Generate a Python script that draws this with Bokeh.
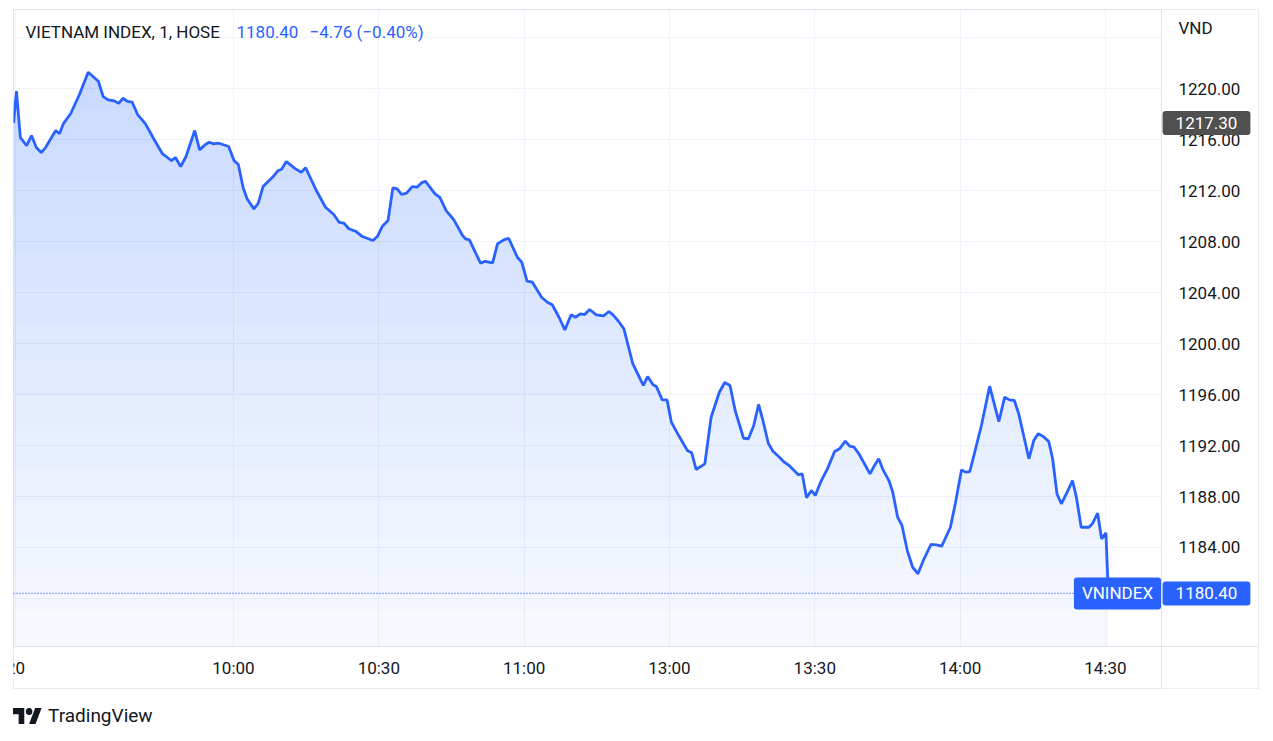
import numpy as np
from bokeh.plotting import figure
from bokeh.models import (FixedTicker, Range1d, Label, Span, BoxAnnotation, Div,
                          NumeralTickFormatter)
from bokeh.layouts import column
from bokeh.embed import file_html
from bokeh.resources import INLINE

# minutes of trading time since 9:15 (lunch break removed: 11:30 -> 13:00)
minutes = (
    [-0.4, 0.2, 1.0, 2.3, 3.3, 4.3, 5.3, 6.2, 8.3, 9.1, 9.9, 11.4, 13.2, 15.0, 17.1, 18.1, 19.1,
     20.2, 21.3, 22.2, 23.1, 24.1, 25.2, 26.8, 28.5, 30.3, 31.3, 32.2, 33.0, 34.1, 35.2, 37.0, 38.0, 39.2]
    + [40.0, 40.9, 42.0, 44.0, 45.1, 46.0, 47.0, 47.8, 49.2, 50.1, 51.1, 52.0, 53.2, 54.2, 54.9, 55.9,
       57.8, 59.0, 59.9, 61.3, 62.1, 64.0, 65.7, 66.8, 67.8, 68.8, 70.2, 71.6, 73.8, 74.7, 75.7, 76.9, 77.9]
    + [78.8, 79.7, 80.7, 81.9, 82.9, 83.8, 84.6, 86.6, 87.6, 88.9, 90.5, 92.2, 92.9, 93.7, 96.0, 96.9,
       98.5, 99.5, 100.8, 101.8, 103.6, 104.5, 105.6, 106.7, 108.6, 109.8, 110.8, 112.2, 113.4, 114.7, 115.6, 116.6]
    + [117.5, 118.5, 119.9, 121.4, 122.5, 123.3, 124.5, 125.6, 127.4, 129.6, 130.5, 131.6, 132.3, 133.5,
       134.5, 135.4, 136.9, 138.7, 139.6, 140.5, 142.3, 143.6, 145.3, 146.4, 147.5, 148.6, 150.3, 151.3,
       152.4, 153.4, 154.3, 155.4]
    + [156.4, 157.5, 158.7, 159.7, 161.6, 162.4, 163.3, 164.3, 165.1, 166.2, 167.6, 169.1, 170.1, 171.3,
       172.2, 173.1, 174.1, 176.4, 177.2, 178.2, 179.0, 180.3, 181.1, 182.1, 183.0, 184.1, 185.2, 186.3,
       187.4, 189.0, 190.1, 191.2, 193.0, 194.0]
    + [195.3, 196.1, 197.0, 197.8, 199.4, 201.1, 203.0, 204.2, 205.2, 206.2, 207.1, 209.2, 210.2, 211.1,
       212.1, 213.3, 214.1, 215.0, 215.9, 217.1, 218.2, 219.0, 220.0, 221.6, 222.3, 223.4, 224.2, 225.1, 225.6]
)
prices = (
    [1217.30, 1219.80, 1216.16, 1215.53, 1216.31, 1215.37, 1214.98, 1215.37, 1216.71, 1216.47, 1217.25,
     1218.04, 1219.53, 1221.28, 1220.57, 1219.37, 1219.11, 1219.06, 1218.85, 1219.24, 1219.00, 1218.93,
     1217.96, 1217.25, 1216.08, 1214.90, 1214.61, 1214.35, 1214.59, 1213.88, 1214.67, 1216.71, 1215.19, 1215.61]
    + [1215.79, 1215.66, 1215.71, 1215.45, 1214.35, 1214.04, 1212.21, 1211.35, 1210.56, 1211.00, 1212.31,
       1212.65, 1213.10, 1213.57, 1213.65, 1214.27, 1213.70, 1213.44, 1213.78, 1212.65, 1212.00, 1210.69,
       1210.12, 1209.51, 1209.44, 1209.00, 1208.81, 1208.39, 1208.08, 1208.39, 1209.18, 1209.65, 1212.21]
    + [1212.13, 1211.69, 1211.79, 1212.31, 1212.26, 1212.60, 1212.73, 1211.74, 1211.47, 1210.43, 1209.70,
       1208.53, 1208.21, 1208.13, 1206.30, 1206.45, 1206.33, 1207.82, 1208.13, 1208.26, 1206.77, 1206.38,
       1204.89, 1204.81, 1203.63, 1203.24, 1203.04, 1202.06, 1201.07, 1202.25, 1202.06, 1202.33]
    + [1202.27, 1202.67, 1202.25, 1202.17, 1202.51, 1202.27, 1201.73, 1201.15, 1198.45, 1196.71, 1197.41,
       1196.76, 1196.63, 1195.58, 1195.58, 1193.83, 1192.78, 1191.61, 1191.43, 1190.12, 1190.56, 1194.22,
       1196.18, 1196.94, 1196.71, 1194.69, 1192.57, 1192.53, 1193.57, 1195.22, 1193.96, 1192.18]
    + [1191.53, 1191.16, 1190.69, 1190.43, 1189.70, 1189.78, 1187.90, 1188.47, 1188.08, 1189.12, 1190.17,
       1191.53, 1191.74, 1192.34, 1191.95, 1191.87, 1191.35, 1189.78, 1190.35, 1190.96, 1190.17, 1189.25,
       1188.34, 1186.38, 1185.73, 1183.76, 1182.45, 1181.94, 1182.98, 1184.24, 1184.21, 1184.10, 1185.59, 1187.43]
    + [1190.09, 1189.91, 1189.96, 1191.14, 1193.57, 1196.65, 1193.88, 1195.79, 1195.58, 1195.53, 1194.49,
       1190.96, 1192.39, 1192.92, 1192.73, 1192.31, 1190.96, 1188.21, 1187.43, 1188.34, 1189.25, 1187.95,
       1185.59, 1185.59, 1185.86, 1186.69, 1184.68, 1185.15, 1180.40]
)
assert len(minutes) == len(prices)

x_tick_pos = [0, 45, 75, 105, 135, 165, 195, 225]
x_tick_labels = ["20", "10:00", "10:30", "11:00", "13:00", "13:30", "14:00", "14:30"]
y_tick_values = [1184, 1188, 1192, 1196, 1200, 1204, 1208, 1212, 1216, 1220]
y_grid_values = [1180, 1184, 1188, 1192, 1196, 1200, 1204, 1208, 1212, 1216, 1220, 1224]

title_text = "VIETNAM INDEX, 1, HOSE"
symbol = "VNINDEX"
currency = "VND"
last_price = 1180.40
open_price = 1217.30
change = "\u22124.76"
change_pct = "(\u22120.40%)"

FONT = "Roboto"
TXT = "#131722"
BLUE = "#2962ff"
GRID = "#f0f3fa"
BORDER = "#e0e3eb"

# full widget frame; price scale and time scale live inside it
X0, X1 = -0.413, 256.6          # frame x extent (minutes)
X_SCALE = 236.58                # left edge of the price scale
Y0, Y1 = 1172.94, 1226.20       # frame y extent (price)
Y_TIME = 1176.24                # top edge of the time scale

p = figure(width=1259, height=689, x_range=Range1d(X0, X1), y_range=Range1d(Y0, Y1),
           output_backend="svg", toolbar_location=None, y_axis_location="right",
           min_border_left=13, min_border_right=1, min_border_top=9, min_border_bottom=1)
p.background_fill_color = "white"
p.border_fill_color = "white"
p.outline_line_color = BORDER

# grids
p.xgrid.ticker = FixedTicker(ticks=x_tick_pos)
p.ygrid.ticker = FixedTicker(ticks=y_grid_values)
p.xgrid.grid_line_color = GRID
p.ygrid.grid_line_color = GRID

# last price dotted line (under the scale covers)
p.add_layout(Span(location=last_price, dimension="width", line_color=BLUE,
                  line_dash="1 2", line_width=1.4, level="underlay"))

# white covers for price scale and time scale areas
p.add_layout(BoxAnnotation(left=X_SCALE, fill_color="white", fill_alpha=1,
                           line_alpha=0, level="underlay"))
p.add_layout(BoxAnnotation(top=Y_TIME, fill_color="white", fill_alpha=1,
                           line_alpha=0, level="underlay"))

# gradient area fill (stacked translucent layers)
x_arr = np.array(minutes)
v_arr = np.array(prices)
N = 16
levels = np.linspace(Y_TIME, v_arr.max(), N + 1)[:-1]
a_bot, a_top = 0.035, 0.23
prev_T = 1.0
for k, lv in enumerate(levels):
    target = a_bot + (a_top - a_bot) * k / (N - 1)
    T = 1 - target
    la = 1 - T / prev_T
    prev_T = T
    p.varea(x=x_arr, y1=np.full_like(v_arr, lv), y2=np.maximum(v_arr, lv),
            fill_color=BLUE, fill_alpha=la)

p.line(x_arr, v_arr, line_color=BLUE, line_width=2.8)

# axes placed at the scale borders
xa = p.xaxis[0]
xa.fixed_location = Y_TIME
xa.ticker = FixedTicker(ticks=x_tick_pos)
xa.major_label_overrides = {t: l for t, l in zip(x_tick_pos, x_tick_labels)}
ya = p.yaxis[0]
ya.fixed_location = X_SCALE
ya.ticker = FixedTicker(ticks=y_tick_values)
ya.formatter = NumeralTickFormatter(format="0.00")
for ax in (xa, ya):
    ax.axis_line_color = BORDER
    ax.major_tick_line_color = None
    ax.minor_tick_line_color = None
    ax.major_tick_out = 0
    ax.major_tick_in = 0
    ax.minor_tick_out = 0
    ax.minor_tick_in = 0
    ax.major_label_text_font = FONT
    ax.major_label_text_font_size = "17px"
    ax.major_label_text_color = TXT
xa.major_label_standoff = 12
ya.major_label_standoff = 17

# title legend (screen units from frame bottom-left)
FB = 688  # page y of frame bottom
p.add_layout(Label(x=12, y=FB - 31, x_units="screen", y_units="screen", text=title_text,
                   text_font=FONT, text_font_size="17px", text_color=TXT, text_baseline="middle"))
p.add_layout(Label(x=223, y=FB - 31, x_units="screen", y_units="screen", text=f"{last_price:.2f}",
                   text_font=FONT, text_font_size="17px", text_color=BLUE, text_baseline="middle"))
p.add_layout(Label(x=296, y=FB - 31, x_units="screen", y_units="screen", text=f"{change} {change_pct}",
                   text_font=FONT, text_font_size="17px", text_color=BLUE, text_baseline="middle"))
p.add_layout(Label(x=1165, y=FB - 27, x_units="screen", y_units="screen", text=currency,
                   text_font=FONT, text_font_size="17px", text_color=TXT, text_baseline="middle"))

# price tags on the scale
p.add_layout(Label(x=1193, y=open_price, x_units="screen", y_units="data", text=f"{open_price:.2f}",
                   text_font=FONT, text_font_size="17px", text_color="white", text_align="center",
                   text_baseline="middle", background_fill_color="#505050", padding=(13, 6),
                   border_radius=3))
p.add_layout(Label(x=1193, y=last_price, x_units="screen", y_units="data", text=f"{last_price:.2f}",
                   text_font=FONT, text_font_size="17px", text_color="white", text_align="center",
                   text_baseline="middle", background_fill_color=BLUE, padding=(13, 6),
                   border_radius=3))
p.add_layout(Label(x=1104, y=last_price, x_units="screen", y_units="data", text=symbol,
                   text_font=FONT, text_font_size="17px", text_color="white", text_align="center",
                   text_baseline="middle", background_fill_color=BLUE, padding=(8, 6),
                   border_radius=3))

logo_html = (
    '<div style="display:flex;align-items:center;">'
    '<svg width="29" height="16" viewBox="0 4 36 18" preserveAspectRatio="none">'
    '<path d="M14 22H7V11H0V4h14v18zM28 22h-8l7.5-18h8L28 22z" fill="#131722"/>'
    '<circle cx="20" cy="8" r="4" fill="#131722"/></svg>'
    '<span style="font-family:Roboto;font-size:19px;color:#131722;margin-left:6px;">TradingView</span>'
    '</div>'
)
logo = Div(text=logo_html, width=300, height=30, margin=(13, 0, 0, 13))

layout = column(p, logo)
open("out.html", "w").write(file_html(layout, INLINE))
